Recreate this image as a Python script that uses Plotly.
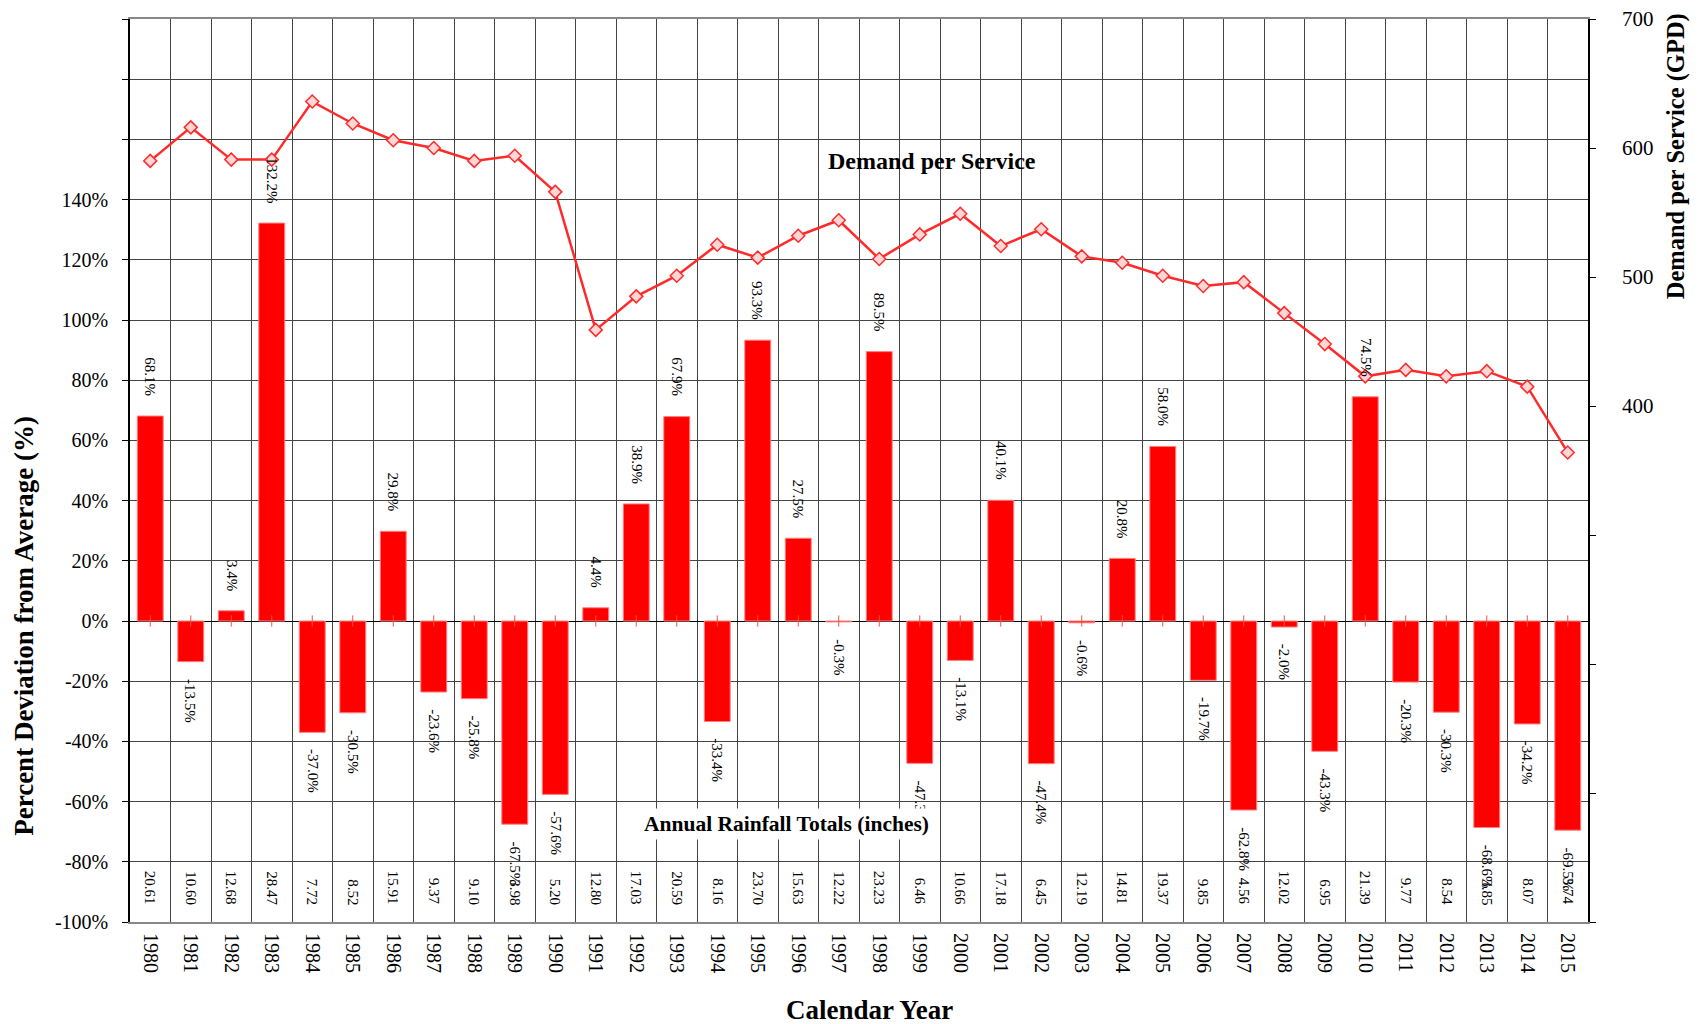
import plotly.graph_objects as go

years = list(range(1980, 2016))
deviation_pct = [68.1, -13.5, 3.4, 132.2, -37.0, -30.5, 29.8, -23.6, -25.8, -67.5,
                 -57.6, 4.4, 38.9, 67.9, -33.4, 93.3, 27.5, -0.3, 89.5, -47.3,
                 -13.1, 40.1, -47.4, -0.6, 20.8, 58.0, -19.7, -62.8, -2.0, -43.3,
                 74.5, -20.3, -30.3, -68.6, -34.2, -69.5]
rainfall_in = ["20.61", "10.60", "12.68", "28.47", "7.72", "8.52", "15.91", "9.37", "9.10", "3.98",
               "5.20", "12.80", "17.03", "20.59", "8.16", "23.70", "15.63", "12.22", "23.23", "6.46",
               "10.66", "17.18", "6.45", "12.19", "14.81", "19.37", "9.85", "4.56", "12.02", "6.95",
               "21.39", "9.77", "8.54", "3.85", "8.07", "3.74"]
demand_gpd = [590, 616, 591, 591, 636, 619, 606, 600, 590, 594,
              566, 459, 485, 501, 525, 515, 532, 544, 514, 533,
              549, 524, 537, 516, 511, 501, 493, 496, 472, 448,
              423, 428, 423, 427, 415, 364]

left_ticks = list(range(-100, 201, 20))
left_text = [f"{v}%" if v <= 140 else "" for v in left_ticks]
right_ticks = list(range(0, 701, 100))
right_text = [str(v) if v >= 400 else "" for v in right_ticks]

FONT = "Liberation Serif"

fig = go.Figure()
fig.add_trace(go.Bar(
    x=years, y=deviation_pct, marker=dict(color="#FF0000", line=dict(color="#FF8080", width=1)),
    yaxis="y", showlegend=False, hoverinfo="skip"))
fig.add_trace(go.Scatter(
    x=years, y=[0] * len(years), mode="markers", yaxis="y",
    marker=dict(symbol="line-ns-open", size=8, line=dict(color="black", width=1)),
    showlegend=False, hoverinfo="skip"))
fig.add_trace(go.Scatter(
    x=years, y=demand_gpd, yaxis="y2", mode="lines+markers",
    line=dict(color="#FF2A2A", width=2.5),
    marker=dict(symbol="diamond", size=10, color="#FFD6D6", line=dict(color="#FF2A2A", width=1.5)),
    showlegend=False, hoverinfo="skip"))

annotations = []
for yr, v in zip(years, deviation_pct):
    if v >= 0:
        annotations.append(dict(x=yr, y=v, xref="x", yref="y", text=f"{v:.1f}%", textangle=90,
                                showarrow=False, xanchor="center", yanchor="bottom", yshift=18,
                                font=dict(family=FONT, size=15, color="black")))
    else:
        annotations.append(dict(x=yr, y=v, xref="x", yref="y", text=f"{v:.1f}%", textangle=90,
                                showarrow=False, xanchor="center", yanchor="top", yshift=-15,
                                font=dict(family=FONT, size=15, color="black")))
for yr, r in zip(years, rainfall_in):
    annotations.append(dict(x=yr, y=-95, xref="x", yref="y", text=r, textangle=90,
                            showarrow=False, xanchor="center", yanchor="bottom",
                            font=dict(family=FONT, size=15, color="black")))

annotations.append(dict(x=1999.3, y=152.7, xref="x", yref="y", text="<b>Demand per Service</b>",
                        showarrow=False, font=dict(family=FONT, size=24, color="black")))
annotations.append(dict(x=1995.7, y=-67.4, xref="x", yref="y", text="<b>Annual Rainfall Totals (inches)</b>",
                        showarrow=False, bgcolor="white", borderpad=3,
                        font=dict(family=FONT, size=21.5, color="black")))
annotations.append(dict(x=0.5075, y=0, xref="paper", yref="paper", yshift=-88, text="<b>Calendar Year</b>",
                        showarrow=False, xanchor="center", yanchor="middle",
                        font=dict(family=FONT, size=27, color="black")))
annotations.append(dict(x=0, y=0.328, xref="paper", yref="paper", xshift=-106,
                        text="<b>Percent Deviation from Average (%)</b>", textangle=-90,
                        showarrow=False, xanchor="center", yanchor="middle",
                        font=dict(family=FONT, size=27, color="black")))
annotations.append(dict(x=1, y=0.848, xref="paper", yref="paper", xshift=88,
                        text="<b>Demand per Service (GPD)</b>", textangle=-90,
                        showarrow=False, xanchor="center", yanchor="middle",
                        font=dict(family=FONT, size=24.5, color="black")))

fig.update_layout(
    width=1693, height=1016,
    margin=dict(l=122, r=113, t=11, b=102, autoexpand=False),
    paper_bgcolor="white", plot_bgcolor="white",
    bargap=0.36,
    font=dict(family=FONT, size=20, color="black"),
    annotations=annotations,
    xaxis=dict(range=[1979.5, 2015.5], tickvals=years, ticktext=[str(y) for y in years],
               tickangle=90, ticks="", ticklabelstandoff=5, showgrid=False, automargin=False,
               showline=True, mirror=True, linecolor="#888888", linewidth=2,
               minor=dict(tick0=1979.5, dtick=1, showgrid=True, gridcolor="#444444", gridwidth=1, ticks=""),
               tickfont=dict(family=FONT, size=20)),
    yaxis=dict(range=[-100, 200], tickvals=left_ticks, ticktext=left_text, automargin=False,
               ticks="outside", ticklen=6, tickcolor="black", ticklabelstandoff=10,
               ticklabeloverflow="allow",
               showgrid=True, gridcolor="#444444", gridwidth=1,
               zeroline=True, zerolinecolor="black", zerolinewidth=1,
               showline=True, linecolor="black", linewidth=1.5,
               tickfont=dict(family=FONT, size=20)),
    yaxis2=dict(range=[0, 700], tickvals=right_ticks, ticktext=right_text, overlaying="y", side="right",
                automargin=False, ticklabeloverflow="allow",
                ticks="outside", ticklen=6, tickcolor="black", ticklabelstandoff=22,
                showgrid=False, zeroline=False, showline=True, linecolor="black", linewidth=1.5,
                tickfont=dict(family=FONT, size=21)),
)

fig.write_html("out.html")
